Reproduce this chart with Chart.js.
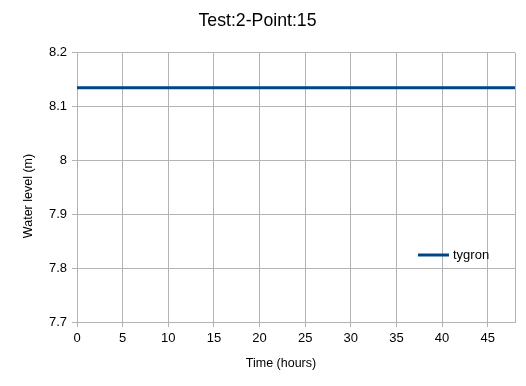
<!DOCTYPE html>
<html>
<head>
<meta charset="utf-8">
<script src="https://cdn.jsdelivr.net/npm/chart.js@4"></script>
<style>
  body { margin: 0; background: #fff; }
  #wrap { width: 526px; height: 386px; }
</style>
</head>
<body>
<div id="wrap"><canvas id="chart"></canvas></div>
<script>
const times = [0, 6, 12, 18, 24, 30, 36, 42, 48]
const levels = [8.135, 8.135, 8.135, 8.135, 8.135, 8.135, 8.135, 8.135, 8.135]
const seriesName = "tygron"
const chartTitle = "Test:2-Point:15"
const xTitle = "Time (hours)"
const yTitle = "Water level (m)"

const font = "'Liberation Sans', Arial, sans-serif"
Chart.defaults.font.family = font
Chart.defaults.color = "#000"

// legend inside the plot + axis titles placed like the original
const extras = {
    id: "extras",
    afterDraw(chart) {
        const ctx = chart.ctx
        const ds = chart.data.datasets[0]
        const y = 255
        ctx.save()
        ctx.strokeStyle = ds.borderColor
        ctx.lineWidth = 3
        ctx.beginPath()
        ctx.moveTo(418, y)
        ctx.lineTo(449, y)
        ctx.stroke()
        ctx.fillStyle = "#000"
        ctx.font = "13px " + font
        ctx.textBaseline = "middle"
        ctx.fillText(ds.label, 453, y)

        ctx.font = "12.5px " + font
        ctx.textAlign = "center"
        ctx.fillText(xTitle, 281, 364)
        ctx.translate(29, 196)
        ctx.rotate(-Math.PI / 2)
        ctx.fillText(yTitle, 0, 0)
        ctx.restore()
    }
}

const chart = new Chart(document.querySelector("#chart"), {
    type: "line",
    data: {
        datasets: [{
            label: seriesName,
            data: times.map((t, i) => ({x: t, y: levels[i]})),
            borderColor: "#004586",
            borderWidth: 3,
            pointRadius: 0,
            tension: 0
        }]
    },
    options: {
        responsive: true,
        maintainAspectRatio: false,
        animation: false,
        layout: { padding: { left: 0, right: 11, top: 0, bottom: 0 } },
        plugins: {
            legend: { display: false },
            tooltip: { enabled: false },
            title: {
                display: true,
                text: chartTitle,
                font: { size: 17.7, weight: "normal" },
                color: "#000",
                padding: { top: 10.5, bottom: 21 }
            }
        },
        scales: {
            x: {
                type: "linear",
                min: 0,
                max: 48,
                ticks: {
                    stepSize: 5,
                    font: { size: 13 },
                    color: "#000",
                    maxRotation: 0,
                    padding: 4,
                    callback: v => (v % 5 === 0 ? v : "")
                },
                grid: {
                    color: "#b3b3b3",
                    tickLength: 5,
                    tickColor: c => (c.tick && c.tick.value % 5 === 0 ? "#b3b3b3" : "rgba(0,0,0,0)")
                },
                border: { color: "#b3b3b3" },
                afterFit: s => { s.height = 64 }
            },
            y: {
                min: 7.7,
                max: 8.2,
                ticks: {
                    stepSize: 0.1,
                    font: { size: 13 },
                    color: "#000",
                    padding: 5,
                    callback: v => parseFloat(v.toFixed(1)).toString()
                },
                grid: { color: "#b3b3b3", tickLength: 5 },
                border: { color: "#b3b3b3" },
                afterFit: s => { s.width = 77 }
            }
        }
    },
    plugins: [extras]
})
</script>
</body>
</html>
